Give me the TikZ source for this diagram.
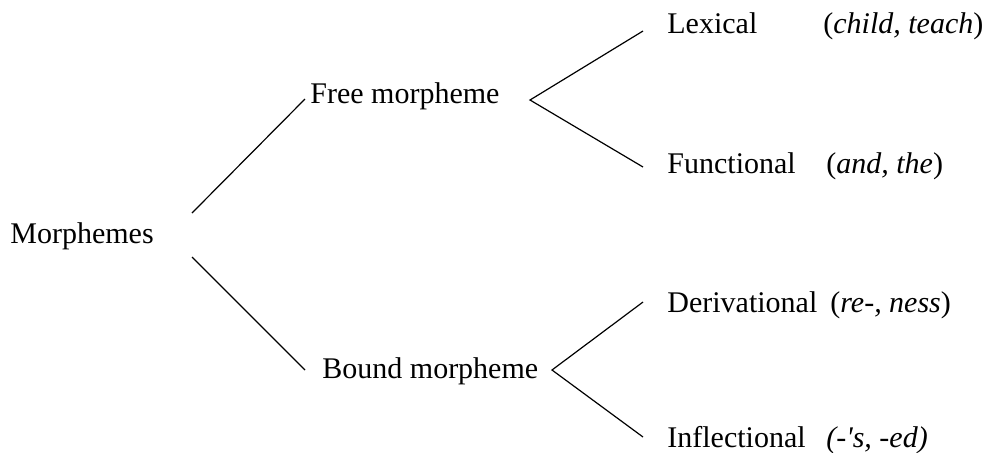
\documentclass[tikz,border=0pt]{standalone}
\usepackage{fontspec}
\setmainfont{Liberation Serif}
\usepackage{tikz}
\usetikzlibrary{positioning}

\begin{document}
\begin{tikzpicture}[
	x=0.5pt, y=-0.5pt,
	every node/.style={font=\fontsize{15}{18}\selectfont},
	word/.style = {anchor=base west, inner sep=0pt},
	branch/.style = {line width=0.6pt}
	]
	\useasboundingbox (0,0) rectangle (988,452);

	% words
	\node[word] (morph) at (10,243) {Morphemes};
	\node[word] (free) at (310,103) {Free morpheme};
	\node[word] (bound) at (322,378) {Bound morpheme};

	\node[word] (lex) at (667,33) {Lexical};
	\node[word] (lexex) at (823,33) {(\textit{child, teach})};
	\node[word] (func) at (667,173) {Functional};
	\node[word] (funcex) at (826,173) {(\textit{and, the})};
	\node[word] (deriv) at (667,312) {Derivational};
	\node[word] (derivex) at (830,312) {(\textit{re-, ness})};
	\node[word] (infl) at (667,447) {Inflectional};
	\node[word] (inflex) at (826,447) {\textit{(-\textquotesingle s, -ed)}};

	% branch ends
	\coordinate (@m1) at (192,213);
	\coordinate (@m2) at (192,257);
	\coordinate (@f0) at (305,99);
	\coordinate (@b0) at (305,370);
	\coordinate (@f) at (530,100);
	\coordinate (@f1) at (643,31);
	\coordinate (@f2) at (643,167);
	\coordinate (@b) at (552,370);
	\coordinate (@b1) at (643,302);
	\coordinate (@b2) at (643,437);

	\draw[branch] (@m1) to (@f0);
	\draw[branch] (@m2) to (@b0);
	\draw[branch] (@f1) to (@f) to (@f2);
	\draw[branch] (@b1) to (@b) to (@b2);

\end{tikzpicture}
\end{document}
